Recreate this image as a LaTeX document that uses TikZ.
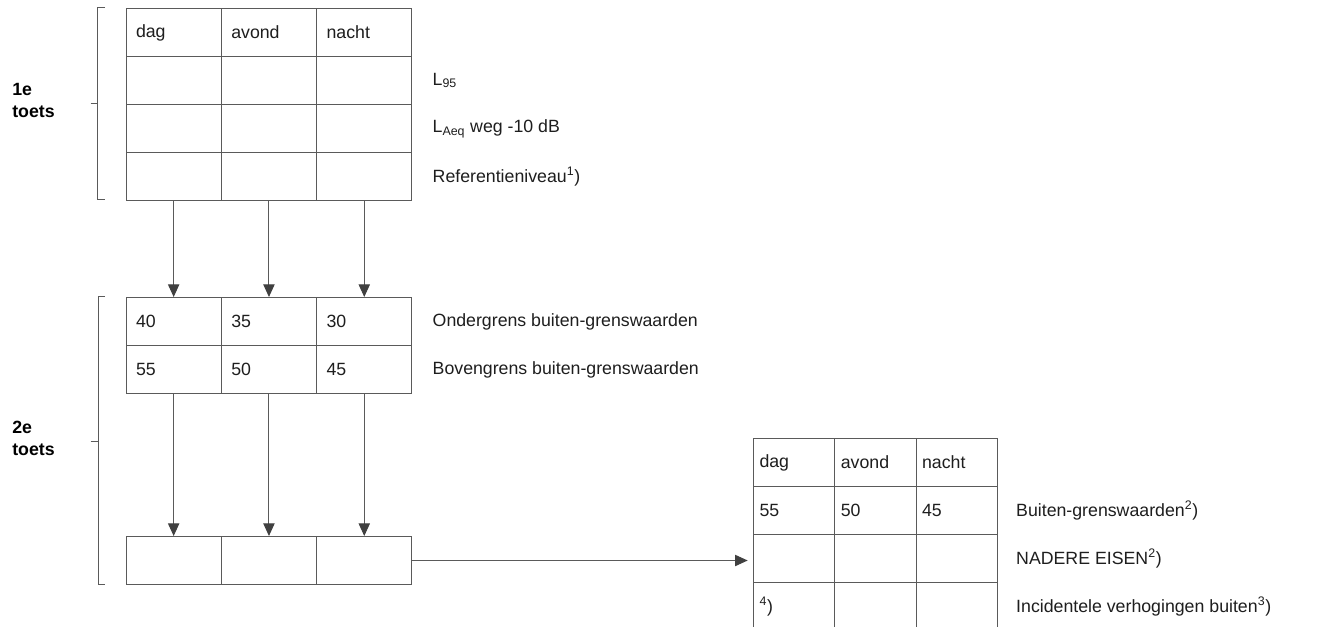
\documentclass[tikz,border=0pt]{standalone}
\usepackage{fontspec}
\setmainfont{Liberation Sans}
\usetikzlibrary{arrows.meta}
\definecolor{rule}{RGB}{90,90,90}
\definecolor{ink}{RGB}{30,30,30}
\tikzset{
  cell/.style={draw=rule, line width=0.75pt, rectangle, anchor=north west,
    minimum height=36pt, inner xsep=7.5pt, inner ysep=0pt, text width=56.5pt,
    align=left, text=ink, font=\fontsize{13.3}{16}\selectfont},
  smallcell/.style={cell, inner xsep=4.5pt, text width=52pt},
  lbl/.style={anchor=west, inner sep=0pt, text=ink, font=\fontsize{13.3}{16}\selectfont},
  toets/.style={anchor=west, inner sep=0pt, align=left, text=black,
    font=\fontsize{13.3}{16.5}\selectfont\bfseries},
  flow/.style={draw=rule, line width=0.75pt,
    -{Triangle[width=8.5pt,length=9.5pt,color=ink!85]}}
}
\begin{document}
\begin{tikzpicture}[x=0.75pt,y=-0.75pt]
      \useasboundingbox[fill=white] (0,0) rectangle (1339,627);
      \clip (0,0) rectangle (1339,627);
      \path
        (125.5,8) node[cell] (a11) {dag}
        (220.8,8) node[cell] (a12) {avond}
        (316.1,8) node[cell] (a13) {nacht}
        (125.5,56) node[cell] (a21) {}
        (220.8,56) node[cell] (a22) {}
        (316.1,56) node[cell] (a23) {}
        (125.5,104) node[cell] (a31) {}
        (220.8,104) node[cell] (a32) {}
        (316.1,104) node[cell] (a33) {}
        (125.5,152) node[cell] (a41) {}
        (220.8,152) node[cell] (a42) {}
        (316.1,152) node[cell] (a43) {}
        (125.5,297) node[cell] (b11) {40}
        (220.8,297) node[cell] (b12) {35}
        (316.1,297) node[cell] (b13) {30}
        (125.5,345) node[cell] (b21) {55}
        (220.8,345) node[cell] (b22) {50}
        (316.1,345) node[cell] (b23) {45}
        (125.5,536) node[cell] (c1) {}
        (220.8,536) node[cell] (c2) {}
        (316.1,536) node[cell] (c3) {}
        (753,438) node[smallcell] (d11) {dag}
        (834.3,438) node[smallcell] (d12) {avond}
        (915.6,438) node[smallcell] (d13) {nacht}
        (753,486) node[smallcell] (d21) {55}
        (834.3,486) node[smallcell] (d22) {50}
        (915.6,486) node[smallcell] (d23) {45}
        (753,534) node[smallcell] (d31) {}
        (834.3,534) node[smallcell] (d32) {}
        (915.6,534) node[smallcell] (d33) {}
        (753,582) node[smallcell] (d41) {\textsuperscript{4})}
        (834.3,582) node[smallcell] (d42) {}
        (915.6,582) node[smallcell] (d43) {};
      \node[lbl] (l95) at ([xshift=15pt]a23.east) {L\textsubscript{95}};
      \node[lbl] (laeq) at ([xshift=15pt]a33.east) {L\textsubscript{Aeq} weg -10 dB};
      \node[lbl] (ref) at ([xshift=15pt]a43.east) {Referentieniveau\textsuperscript{1})};
      \node[lbl] (onder) at ([xshift=15pt]b13.east) {Ondergrens buiten-grenswaarden};
      \node[lbl] (boven) at ([xshift=15pt]b23.east) {Bovengrens buiten-grenswaarden};
      \node[lbl] (grens) at ([xshift=13.5pt]d23.east) {Buiten-grenswaarden\textsuperscript{2})};
      \node[lbl] (nadere) at ([xshift=13.5pt]d33.east) {NADERE EISEN\textsuperscript{2})};
      \node[lbl] (incid) at ([xshift=13.5pt]d43.east) {Incidentele verhogingen buiten\textsuperscript{3})};
      \node[toets] (toets1) at (12,100) {1e\\toets};
      \node[toets] (toets2) at (12,438) {2e\\toets};
      \draw[rule, line width=0.75pt] (105,8) -- (97.5,8) -- (97.5,200) -- (105,200);
      \draw[rule, line width=0.75pt] (90.5,104) -- (97.5,104);
      \draw[rule, line width=0.75pt] (105,297) -- (98,297) -- (98,584) -- (105,584);
      \draw[rule, line width=0.75pt] (90.5,441) -- (98,441);
      \begin{scope}[flow]
        \draw (a41.south) to (b11.north);
        \draw (a42.south) to (b12.north);
        \draw (a43.south) to (b13.north);
        \draw (b21.south) to (c1.north);
        \draw (b22.south) to (c2.north);
        \draw (b23.south) to (c3.north);
        \draw[shorten >=4pt] (c3.east) to (c3.east -| d31.west);
      \end{scope}
    \end{tikzpicture}
\end{document}
